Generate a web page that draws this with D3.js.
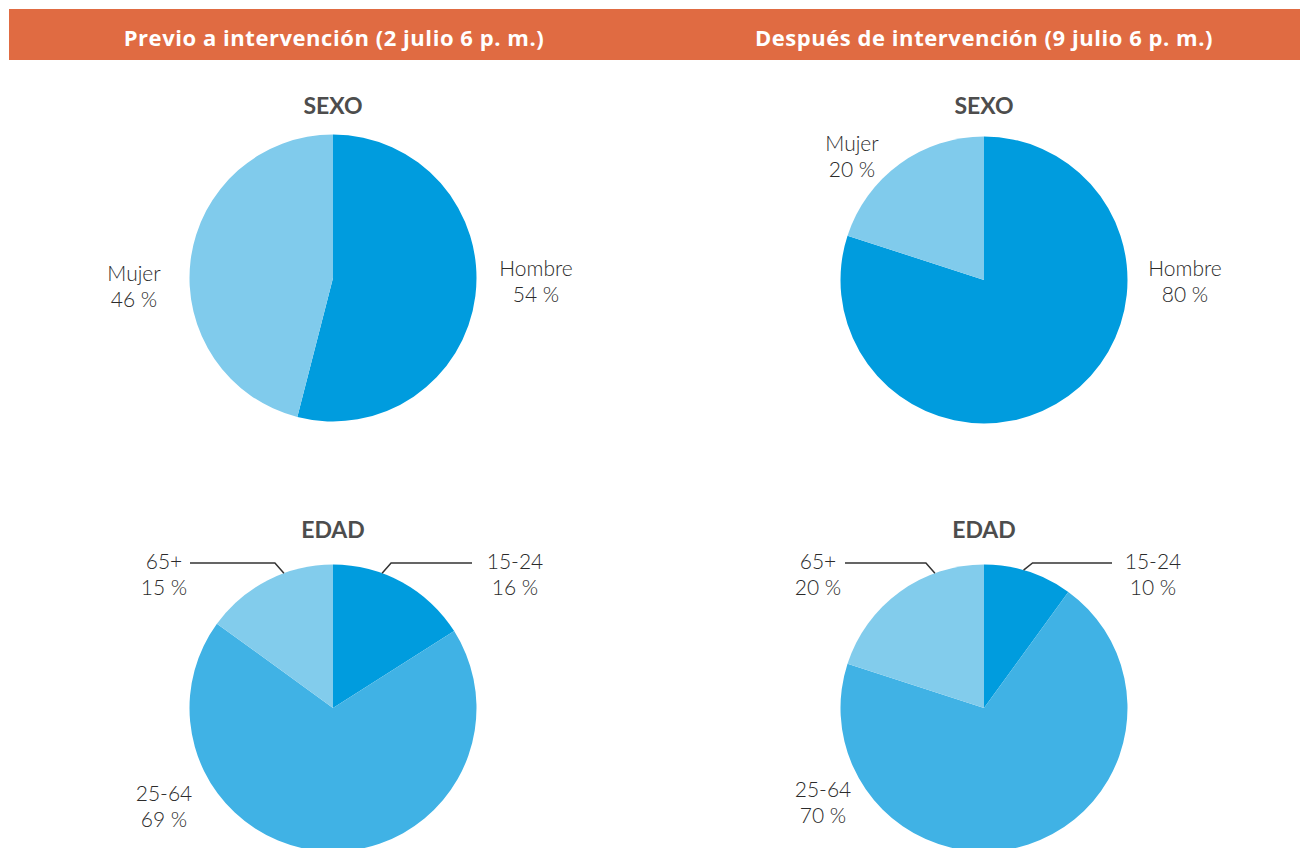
<!DOCTYPE html>
<html>
<head>
<meta charset="utf-8">
<script src="https://cdn.jsdelivr.net/npm/d3@7"></script>
<style>
  html, body { margin: 0; padding: 0; background: #fff; }
  svg { display: block; }
</style>
</head>
<body>
<svg id="chart" width="1300" height="848"></svg>
<script>
// Panel headings
const periods = ["Previo a intervención (2 julio 6 p. m.)", "Después de intervención (9 julio 6 p. m.)"];
const groupTitles = ["SEXO", "EDAD"];

// Sex breakdown (%)
const sexCategories = ["Hombre", "Mujer"];
const sexBefore = [54, 46];
const sexAfter = [80, 20];

// Age breakdown (%)
const ageCategories = ["15-24", "25-64", "65+"];
const ageBefore = [16, 69, 15];
const ageAfter = [10, 70, 20];

const colors = {
  "Hombre": "#009cde",
  "Mujer": "#80cbec",
  "15-24": "#009cde",
  "25-64": "#40b2e5",
  "65+": "#82ccec"
};

const svg = d3.select("#chart");
const W = 1300;

// Header band
svg.append("rect").attr("x", 9).attr("y", 9).attr("width", W - 9).attr("height", 51).attr("fill", "#e06b42");
const colX = [334, 984];
periods.forEach((t, i) => {
  svg.append("text")
    .attr("x", colX[i]).attr("y", 46)
    .attr("text-anchor", "middle")
    .attr("font-family", "'Open Sans', sans-serif")
    .attr("font-weight", 700)
    .attr("font-size", 22)
    .attr("letter-spacing", 0.55)
    .attr("fill", "#fff")
    .text(t);
});

const radius = 143.5;
const pie = d3.pie().sort(null).value(d => d.value);
const arc = d3.arc().innerRadius(0).outerRadius(radius);

const labelFont = "Lato, sans-serif";

function drawLabel(g, x, y, lines) {
  const t = g.append("text")
    .attr("text-anchor", "middle")
    .attr("font-family", labelFont)
    .attr("font-weight", 300)
    .attr("font-size", 21)
    .attr("fill", "#2b2b2b");
  lines.forEach((l, k) => {
    t.append("tspan").attr("x", x).attr("y", y + k * 26).text(l);
  });
}

function drawPie(cx, cy, cats, vals, title, titleDy, labelPos, leaders) {
  const g = svg.append("g");
  g.append("text")
    .attr("x", cx).attr("y", cy + titleDy)
    .attr("text-anchor", "middle")
    .attr("font-family", labelFont)
    .attr("font-weight", 700)
    .attr("font-size", 23)
    .attr("fill", "#4d4d4d")
    .text(title);

  const data = cats.map((c, i) => ({ name: c, value: vals[i] }));
  const pg = g.append("g").attr("transform", `translate(${cx},${cy})`);
  pg.selectAll("path").data(pie(data)).join("path")
    .attr("d", arc)
    .attr("fill", d => colors[d.data.name]);

  data.forEach(d => {
    const p = labelPos[d.name];
    drawLabel(g, cx + p[0], cy + p[1], [d.name, d.value + " %"]);
  });

  // Leader lines: from pie rim, short diagonal, then horizontal to the label
  (leaders || []).forEach(L => {
    const a = L.angle * Math.PI / 180;
    const x0 = cx + radius * Math.sin(a), y0 = cy - radius * Math.cos(a);
    const dir = Math.sign(L.angle);
    const ly = cy - 145;
    g.append("path")
      .attr("d", `M${x0},${y0} L${x0 + dir * 9},${ly} L${cx + L.end},${ly}`)
      .attr("fill", "none")
      .attr("stroke", "#333")
      .attr("stroke-width", 1.5);
  });
}

// Sex pies
drawPie(333, 278, sexCategories, sexBefore, groupTitles[0], -164,
  { "Hombre": [203, -2], "Mujer": [-199, 3] });
drawPie(984, 280, sexCategories, sexAfter, groupTitles[0], -166,
  { "Hombre": [201, -4], "Mujer": [-132, -129] });

// Age pies
drawPie(333, 708, ageCategories, ageBefore, groupTitles[1], -170,
  { "15-24": [182, -139], "25-64": [-169, 93], "65+": [-169, -139] },
  [{ angle: 20, end: 139 }, { angle: -20, end: -143 }]);
drawPie(984, 708, ageCategories, ageAfter, groupTitles[1], -170,
  { "15-24": [169, -139], "25-64": [-161, 89], "65+": [-166, -139] },
  [{ angle: 16, end: 128 }, { angle: -20, end: -139 }]);
</script>
</body>
</html>
